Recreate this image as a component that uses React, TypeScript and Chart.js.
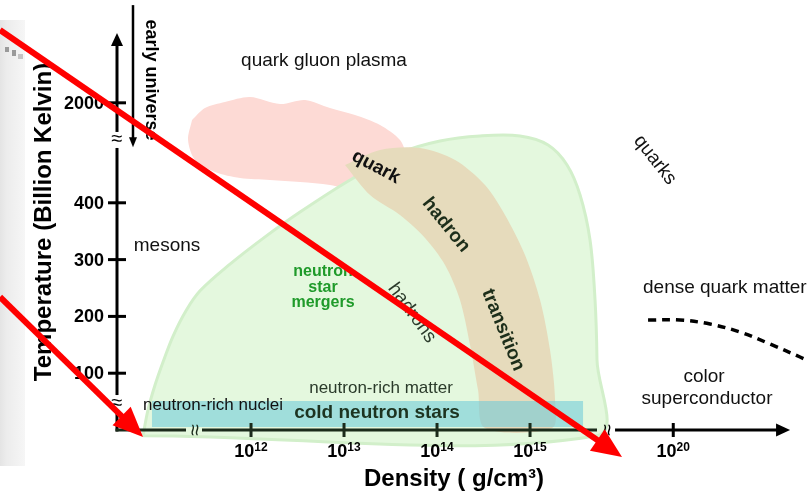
import { useEffect, useRef } from 'react';
import { Chart, registerables } from 'chart.js';

Chart.register(...registerables);

// x: position of log10(density) on a broken axis (10^20 sits after the break)
// y: temperature position (2000 sits after the break)
const X_MIN = 9.301;
const X_MAX = 17.978;
const Y_MIN = -114.4;
const Y_MAX = 757.0;

const xTickPos = [12, 13, 14, 15, 16.54];
const xTickExp = ['12', '13', '14', '15', '20'];
const yTickPos = [100, 200, 300, 400, 576];
const yTickLabels = ['100', '200', '300', '400', '2000'];

const xAxisStart = 10.559;
const xAxisEnd = 17.796;
const yAxisTop = 699;
const xBreaks = [11.387, 15.828];
const yBreaks = [47.5, 510.6];
const greenEdgeX = 15.72;

const euX = 10.731;
const euTop = 748;
const euTip = 498;

// regions
const pinkX = [11.366, 11.505, 11.72, 11.989, 12.312, 12.581, 12.849, 13.118, 13.387, 13.602, 13.656, 13.548, 13.333, 13.118, 12.849, 12.527, 12.204, 11.882, 11.613, 11.398, 11.323, 11.366];
const pinkY = [545.8, 566.9, 577.5, 586.3, 574.0, 581.0, 566.9, 554.6, 537.0, 510.6, 484.2, 457.8, 431.3, 422.5, 431.3, 436.6, 440.2, 443.7, 454.2, 475.4, 510.6, 545.8];

const greenX = [10.839, 10.892, 10.968, 11.054, 11.161, 11.301, 11.452, 11.774, 12.151, 12.527, 13.065, 13.602, 14.032, 14.462, 14.892, 15.194, 15.398, 15.538, 15.645, 15.699, 15.72, 15.72, 10.839];
const greenY = [-10, 35.2, 79.2, 119.7, 165.0, 210.0, 245.0, 292.0, 340.0, 383.8, 440.2, 487.7, 508.8, 517.6, 517.6, 501.8, 466.6, 413.7, 334.5, 228.9, 123.2, -10, -10];

const tanX = [13.011, 13.387, 13.817, 14.194, 14.516, 14.731, 14.946, 15.108, 15.215, 15.269, 15.237, 14.516, 14.441, 14.355, 14.247, 14.086, 13.871, 13.602, 13.28, 13.011];
const tanY = [466.6, 493.0, 496.5, 475.4, 431.3, 378.5, 308.1, 228.9, 140.8, 52.8, 3.5, 3.5, 70.4, 149.7, 228.9, 290.5, 338.0, 378.5, 413.7, 466.6];

const coldX = [10.935, 15.57, 15.57, 10.935, 10.935];
const coldY = [51.06, 51.06, 5.28, 5.28, 51.06];

const dashX = [16.269, 16.613, 16.935, 17.258, 17.581, 17.903, 18.065];
const dashY = [193.7, 193.7, 186.6, 172.5, 151.4, 128.5, 116.2];

const red1X = [9.301, 15.989];
const red1Y = [704.2, -47.5];
const red2X = [9.301, 10.839];
const red2Y = [234.2, -12.3];

const zip = (xs: number[], ys: number[]) => xs.map((x, i) => ({ x, y: ys[i] }));

const FONT = "'Liberation Sans', Arial, Helvetica, sans-serif";
const DASH_INDEX = 4;
const RED_INDICES = [5, 6];
const HEAD_LEN = 30;
const HEAD_HALF = 13;

function txt(ctx: CanvasRenderingContext2D, s: string, x: number, y: number, font: string, color: string, angle = 0, align: CanvasTextAlign = 'center') {
  ctx.save();
  ctx.translate(x, y);
  ctx.rotate((angle * Math.PI) / 180);
  ctx.font = font;
  ctx.fillStyle = color;
  ctx.textAlign = align;
  ctx.textBaseline = 'middle';
  ctx.fillText(s, 0, 0);
  ctx.restore();
}

function seg(ctx: CanvasRenderingContext2D, x1: number, y1: number, x2: number, y2: number) {
  ctx.beginPath();
  ctx.moveTo(x1, y1);
  ctx.lineTo(x2, y2);
  ctx.stroke();
}

const overlay = {
  id: 'overlay',
  beforeDatasetsDraw(chart: any) {
    const ctx = chart.ctx as CanvasRenderingContext2D;
    ctx.save();
    const g = ctx.createLinearGradient(0, 0, 25, 0);
    g.addColorStop(0, '#e4e4e4');
    g.addColorStop(0.25, '#ececec');
    g.addColorStop(1, '#f6f6f6');
    ctx.fillStyle = g;
    ctx.fillRect(0, 20, 25, 446);
    ctx.fillStyle = '#9a9a9a';
    ctx.fillRect(5, 47, 4, 5);
    ctx.fillRect(12, 50, 4, 6);
    ctx.fillStyle = '#c4c4c4';
    ctx.fillRect(18, 54, 5, 5);
    ctx.restore();
  },
  beforeDatasetDraw(chart: any, args: any) {
    if (!RED_INDICES.includes(args.index)) return;
    const xs = chart.scales.x;
    const ys = chart.scales.y;
    const arr = args.index === 5 ? [red1X, red1Y] : [red2X, red2Y];
    const sx = xs.getPixelForValue(arr[0][0]);
    const sy = ys.getPixelForValue(arr[1][0]);
    const tx = xs.getPixelForValue(arr[0][1]);
    const ty = ys.getPixelForValue(arr[1][1]);
    const L = Math.hypot(tx - sx, ty - sy);
    const el = args.meta.data[1];
    el.x = tx - ((tx - sx) / L) * (HEAD_LEN - 4);
    el.y = ty - ((ty - sy) / L) * (HEAD_LEN - 4);
  },
  afterDatasetDraw(chart: any, args: any) {
    if (args.index !== DASH_INDEX) return;
    const ctx = chart.ctx as CanvasRenderingContext2D;
    const xs = chart.scales.x;
    const ys = chart.scales.y;
    const X = (v: number) => xs.getPixelForValue(v);
    const Y = (v: number) => ys.getPixelForValue(v);
    ctx.save();
    ctx.lineCap = 'butt';

    const x0 = X(xAxisStart);
    const y0 = Y(0);

    // y axis
    ctx.strokeStyle = '#000';
    ctx.lineWidth = 3;
    const yb0 = Y(yBreaks[0]);
    const yb1 = Y(yBreaks[1]);
    const yTop = Y(yAxisTop);
    seg(ctx, x0, y0 + 1.5, x0, yb0 + 8);
    seg(ctx, x0, yb0 - 8, x0, yb1 + 8);
    seg(ctx, x0, yb1 - 8, x0, yTop + 10);
    ctx.fillStyle = '#000';
    ctx.beginPath();
    ctx.moveTo(x0, yTop);
    ctx.lineTo(x0 - 6, yTop + 13);
    ctx.lineTo(x0 + 6, yTop + 13);
    ctx.closePath();
    ctx.fill();
    txt(ctx, '≈', x0, yb0, `20px ${FONT}`, '#000');
    txt(ctx, '≈', x0, yb1, `20px ${FONT}`, '#000');

    // y ticks and labels
    yTickPos.forEach((v, i) => {
      const py = Y(v);
      ctx.strokeStyle = '#000';
      seg(ctx, x0 - 9, py, x0 + 9, py);
      txt(ctx, yTickLabels[i], x0 - 13, py + 1, `bold 18px ${FONT}`, '#000', 0, 'right');
    });

    // x axis
    const xb0 = X(xBreaks[0]);
    const xb1 = X(xBreaks[1]);
    const xEnd = X(xAxisEnd);
    const xg = X(greenEdgeX);
    ctx.strokeStyle = '#1b2b1b';
    seg(ctx, x0 - 1.5, y0, xb0 - 8, y0);
    seg(ctx, xb0 + 8, y0, xg, y0);
    ctx.strokeStyle = '#000';
    seg(ctx, xb1 + 8, y0, xEnd - 12, y0);
    ctx.fillStyle = '#000';
    ctx.beginPath();
    ctx.moveTo(xEnd, y0);
    ctx.lineTo(xEnd - 14, y0 - 6.5);
    ctx.lineTo(xEnd - 14, y0 + 6.5);
    ctx.closePath();
    ctx.fill();
    txt(ctx, '≈', xb0, y0, `21px ${FONT}`, '#1b2b1b', 90);
    txt(ctx, '≈', xb1 - 1, y0, `21px ${FONT}`, '#000', 90);

    // x ticks and labels
    xTickPos.forEach((v, i) => {
      const px = X(v);
      ctx.strokeStyle = v < greenEdgeX ? '#1b2b1b' : '#000';
      seg(ctx, px, y0 - 7, px, y0 + 7);
      ctx.font = `bold 18px ${FONT}`;
      const w1 = ctx.measureText('10').width;
      ctx.font = `bold 12px ${FONT}`;
      const w2 = ctx.measureText(xTickExp[i]).width;
      const start = px - (w1 + w2) / 2;
      ctx.fillStyle = '#000';
      ctx.textAlign = 'left';
      ctx.textBaseline = 'alphabetic';
      ctx.font = `bold 18px ${FONT}`;
      ctx.fillText('10', start, 457);
      ctx.font = `bold 12px ${FONT}`;
      ctx.fillText(xTickExp[i], start + w1, 451);
    });

    // axis titles
    txt(ctx, 'Density ( g/cm³)', 454, 479, `bold 24px ${FONT}`, '#000');
    txt(ctx, 'Temperature (Billion Kelvin)', 44, 222, `bold 24px ${FONT}`, '#000', -90);

    // early universe arrow
    const ex = X(euX);
    const et = Y(euTop);
    const ep = Y(euTip);
    ctx.strokeStyle = '#000';
    ctx.lineWidth = 2.5;
    seg(ctx, ex, et, ex, ep - 8);
    ctx.beginPath();
    ctx.moveTo(ex, ep);
    ctx.lineTo(ex - 4, ep - 10);
    ctx.lineTo(ex + 4, ep - 10);
    ctx.closePath();
    ctx.fill();
    txt(ctx, 'early universe', 151, 80, `bold 18px ${FONT}`, '#000', 90);

    // region labels
    txt(ctx, 'quark gluon plasma', 324, 61, `19px ${FONT}`, '#111');
    txt(ctx, 'quarks', 655, 160, `19px ${FONT}`, '#111', 52);
    txt(ctx, 'mesons', 167, 246, `19px ${FONT}`, '#111');
    txt(ctx, 'neutron', 323, 272, `bold 16px ${FONT}`, '#1f9a2a');
    txt(ctx, 'star', 323, 288, `bold 16px ${FONT}`, '#1f9a2a');
    txt(ctx, 'mergers', 323, 303, `bold 16px ${FONT}`, '#1f9a2a');
    txt(ctx, 'hadrons', 412, 313, `19px ${FONT}`, '#2b3b2b', 54);
    txt(ctx, 'quark', 376, 167, `bold 19px ${FONT}`, '#111', 28);
    txt(ctx, 'hadron', 446, 225, `bold 19px ${FONT}`, '#1d2e1a', 51);
    txt(ctx, 'transition', 503, 330, `bold 19px ${FONT}`, '#1d2e1a', 68);
    txt(ctx, 'neutron-rich matter', 381, 388, `17px ${FONT}`, '#2a3a2a');
    txt(ctx, 'neutron-rich nuclei', 213, 405, `17px ${FONT}`, '#111');
    txt(ctx, 'cold neutron stars', 377, 413, `bold 19px ${FONT}`, '#1d3320');
    txt(ctx, 'dense quark matter', 643, 288, `19px ${FONT}`, '#111', 0, 'left');
    txt(ctx, 'color', 704, 377, `19px ${FONT}`, '#111');
    txt(ctx, 'superconductor', 707, 399, `19px ${FONT}`, '#111');

    ctx.restore();
  },
  afterDatasetsDraw(chart: any) {
    const ctx = chart.ctx as CanvasRenderingContext2D;
    const xs = chart.scales.x;
    const ys = chart.scales.y;
    ctx.save();
    ctx.fillStyle = '#ff0000';
    [[red1X, red1Y], [red2X, red2Y]].forEach(([ax, ay]) => {
      const sx = xs.getPixelForValue(ax[0]);
      const sy = ys.getPixelForValue(ay[0]);
      const tx = xs.getPixelForValue(ax[1]);
      const ty = ys.getPixelForValue(ay[1]);
      const L = Math.hypot(tx - sx, ty - sy);
      const ux = (tx - sx) / L;
      const uy = (ty - sy) / L;
      const bx = tx - ux * HEAD_LEN;
      const by = ty - uy * HEAD_LEN;
      ctx.beginPath();
      ctx.moveTo(tx, ty);
      ctx.lineTo(bx - uy * HEAD_HALF, by + ux * HEAD_HALF);
      ctx.lineTo(bx + uy * HEAD_HALF, by - ux * HEAD_HALF);
      ctx.closePath();
      ctx.fill();
    });
    ctx.restore();
  },
};

export default function App() {
  const ref = useRef<HTMLCanvasElement | null>(null);
  useEffect(() => {
    if (!ref.current) return;
    const chart = new Chart(ref.current, {
      type: 'line',
      data: {
        datasets: [
          { data: zip(pinkX, pinkY), fill: 'shape', backgroundColor: '#fddad5', borderWidth: 0, borderColor: 'rgba(0,0,0,0)', tension: 0.3, pointRadius: 0, order: 6 },
          { data: zip(greenX, greenY), fill: 'shape', backgroundColor: '#e4f8de', borderColor: '#d2efca', borderWidth: 3, tension: 0.35, pointRadius: 0, order: 5 },
          { data: zip(tanX, tanY), fill: 'shape', backgroundColor: '#e6dbbc', borderWidth: 0, borderColor: 'rgba(0,0,0,0)', tension: 0.3, pointRadius: 0, order: 4 },
          { data: zip(coldX, coldY), fill: 'shape', backgroundColor: 'rgba(104,200,217,0.55)', borderWidth: 0, borderColor: 'rgba(0,0,0,0)', tension: 0, pointRadius: 0, order: 3 },
          { data: zip(dashX, dashY), fill: false, borderColor: '#000', borderWidth: 3.5, borderDash: [8, 6], tension: 0.35, pointRadius: 0, order: 2 },
          { data: zip(red1X, red1Y), fill: false, borderColor: '#ff0000', borderWidth: 6, borderCapStyle: 'butt', tension: 0, pointRadius: 0, order: 1 },
          { data: zip(red2X, red2Y), fill: false, borderColor: '#ff0000', borderWidth: 6, borderCapStyle: 'butt', tension: 0, pointRadius: 0, order: 0 },
        ],
      },
      options: {
        responsive: false,
        animation: false,
        events: [],
        layout: { padding: 0 },
        plugins: { legend: { display: false }, tooltip: { enabled: false } },
        scales: {
          x: { type: 'linear', min: X_MIN, max: X_MAX, display: false },
          y: { type: 'linear', min: Y_MIN, max: Y_MAX, display: false },
        },
      },
      plugins: [overlay],
    } as any);
    return () => chart.destroy();
  }, []);
  return (
    <div style={{ position: 'absolute', left: 0, top: 0, width: 807, height: 495, background: '#fff' }}>
      <canvas ref={ref} width={807} height={495} style={{ display: 'block' }} />
    </div>
  );
}
